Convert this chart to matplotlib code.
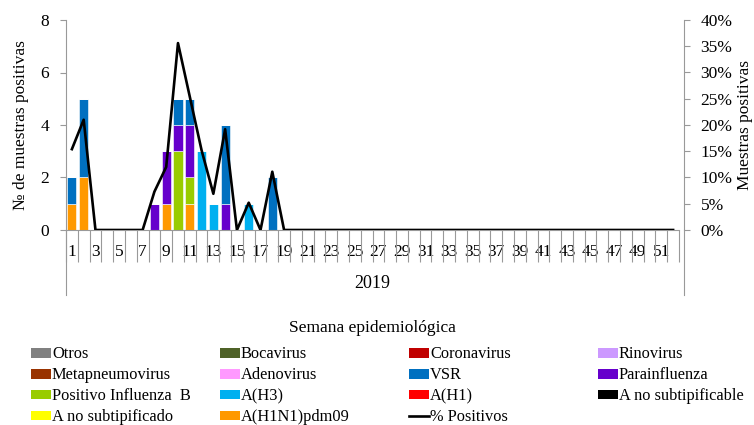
import matplotlib
matplotlib.use("Agg")
import matplotlib.pyplot as plt
from matplotlib.patches import Patch
from matplotlib.lines import Line2D

plt.rcParams['font.family'] = ['Liberation Serif', 'DejaVu Serif']

# Semanas epidemiológicas 2019
weeks = list(range(1, 53))

# Muestras positivas por semana (semanas 1-18, el resto es cero)
zero_tail = [0] * 34
h1n1pdm09   = [1, 2, 0, 0, 0, 0, 0, 0, 1, 0, 1, 0, 0, 0, 0, 0, 0, 0] + zero_tail
a_no_subtipificado = [0] * 52
a_no_subtipificable = [0] * 52
a_h1        = [0] * 52
a_h3        = [0, 0, 0, 0, 0, 0, 0, 0, 0, 0, 0, 3, 1, 0, 0, 1, 0, 0] + zero_tail
influenza_b = [0, 0, 0, 0, 0, 0, 0, 0, 0, 3, 1, 0, 0, 0, 0, 0, 0, 0] + zero_tail
parainfluenza = [0, 0, 0, 0, 0, 0, 0, 1, 2, 1, 2, 0, 0, 1, 0, 0, 0, 0] + zero_tail
vsr         = [1, 3, 0, 0, 0, 0, 0, 0, 0, 1, 1, 0, 0, 3, 0, 0, 0, 2] + zero_tail
adenovirus  = [0] * 52
metapneumovirus = [0] * 52
rinovirus   = [0] * 52
coronavirus = [0] * 52
bocavirus   = [0] * 52
otros       = [0] * 52

# % de positivos
pct_positivos = [15.4, 21.0, 0, 0, 0, 0, 0, 7.3, 12.0, 35.6, 25.4, 15.2, 6.9,
                 19.2, 0, 5.2, 0, 11.1] + zero_tail

# orden de apilado (de abajo hacia arriba)
series = [
    ("A(H1N1)pdm09", h1n1pdm09, "#FF9900"),
    ("A no subtipificado", a_no_subtipificado, "#FFFF00"),
    ("A no subtipificable", a_no_subtipificable, "#000000"),
    ("A(H1)", a_h1, "#FF0000"),
    ("A(H3)", a_h3, "#00B0F0"),
    ("Positivo Influenza  B", influenza_b, "#99CC00"),
    ("Parainfluenza", parainfluenza, "#6600CC"),
    ("VSR", vsr, "#0070C0"),
    ("Adenovirus", adenovirus, "#FF99FF"),
    ("Metapneumovirus", metapneumovirus, "#993300"),
    ("Rinovirus", rinovirus, "#CC99FF"),
    ("Coronavirus", coronavirus, "#C00000"),
    ("Bocavirus", bocavirus, "#4F6228"),
    ("Otros", otros, "#808080"),
]

W, H = 754, 425
fig = plt.figure(figsize=(W / 100, H / 100), dpi=100)
ax = fig.add_axes([66 / W, 1 - 230 / H, (679 - 66) / W, 210 / H])
ax2 = ax.twinx()

gray = "#999999"

bottom = [0] * 52
for name, vals, color in series:
    ax.bar(weeks, vals, bottom=bottom, width=0.78, color=color,
           edgecolor="white", linewidth=0.4)
    bottom = [b + v for b, v in zip(bottom, vals)]

ax2.plot(weeks, pct_positivos, color="black", linewidth=1.9)

# ejes
ax.set_xlim(0.5, 52.5)
ax.set_ylim(0, 8)
ax.set_yticks([0, 2, 4, 6, 8])
ax2.set_ylim(0, 40)
ax2.set_yticks(range(0, 41, 5))
ax2.set_yticklabels([f"{v}%" for v in range(0, 41, 5)])

ax.set_xticks(weeks)
ax.set_xticklabels([str(w) if w % 2 else "" for w in weeks])
ax.set_xticks([w - 0.5 for w in weeks] + [52.5], minor=True)
ax.tick_params(axis="x", which="major", length=0, pad=10, labelsize=12.5)
ax.tick_params(axis="x", which="minor", length=23, color=gray, width=0.8)
ax.tick_params(axis="y", length=4, color=gray, width=0.8, pad=8, labelsize=12.5)
ax2.tick_params(axis="y", length=4, color=gray, width=0.8, pad=8, labelsize=12.5)

for s in ["top", "right"]:
    ax.spines[s].set_visible(False)
for s in ["top", "left", "bottom"]:
    ax2.spines[s].set_visible(False)
ax.spines["left"].set_color(gray)
ax.spines["bottom"].set_color(gray)
ax2.spines["right"].set_color(gray)
ax2.spines["right"].set_position(("outward", 3.6))

# líneas exteriores del eje de categorías
fig.add_artist(Line2D([66 / W, 66 / W], [1 - 230 / H, 1 - 295 / H],
                      color=gray, linewidth=0.8))
fig.add_artist(Line2D([684 / W, 684 / W], [1 - 230 / H, 1 - 295 / H],
                      color=gray, linewidth=0.8))

ax.set_ylabel("№ de muestras positivas", fontsize=12.5, labelpad=8)
ax2.set_ylabel("Muestras positivas", fontsize=12.5, labelpad=3)

fig.text(372.5 / W, 1 - 283 / H, "2019", ha="center", va="center", fontsize=13)
fig.text(372.5 / W, 1 - 328 / H, "Semana epidemiológica", ha="center",
         va="center", fontsize=12.5)

# leyenda (4 columnas)
colors = {name: color for name, vals, color in series}
columns = [
    ["Otros", "Metapneumovirus", "Positivo Influenza  B", "A no subtipificado"],
    ["Bocavirus", "Adenovirus", "A(H3)", "A(H1N1)pdm09"],
    ["Coronavirus", "VSR", "A(H1)", "% Positivos"],
    ["Rinovirus", "Parainfluenza", "A no subtipificable"],
]
col_x = [31, 220, 409, 598]
for x, names in zip(col_x, columns):
    handles = []
    for n in names:
        if n == "% Positivos":
            handles.append(Line2D([], [], color="black", linewidth=1.9, label=n))
        else:
            handles.append(Patch(facecolor=colors[n], label=n))
    fig.legend(handles=handles, loc="upper left",
               bbox_to_anchor=(x / W, 1 - 346.5 / H), frameon=False,
               fontsize=11.8, handlelength=1.2, handleheight=0.55,
               handletextpad=0.08, labelspacing=0.3, borderpad=0,
               borderaxespad=0)

fig.savefig("out.png", dpi=100)
